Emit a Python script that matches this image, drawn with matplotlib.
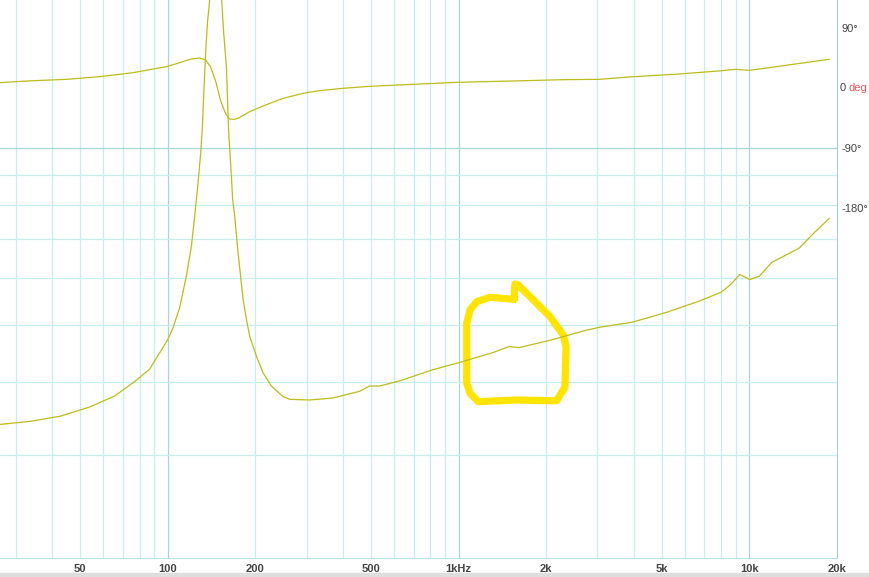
"""
阻抗 / 相位曲线 — 复刻 REW 风格截图
"""

import matplotlib
matplotlib.use("Agg")
import matplotlib.pyplot as plt

# ── 数据（从截图读取）──────────────────────────────────────────

# 阻抗幅值 (Hz, ohm)
freq_mag = [26.5, 33.6, 42.6, 54.0, 65.7, 77.0, 86.7, 91.5, 96.3, 100,
            104.3, 109.9, 115.9, 120.6, 123.8, 127.1, 129.8, 131.6, 133.2, 135.1,
            137.0, 139.4, 142, 146, 150, 153.3, 155.7, 159.1, 162.0, 164.2,
            167.2, 169.9, 174.5, 181.5, 186.4, 191.3, 201.7, 212.6, 227.0, 249.1,
            262.8, 307.5, 370, 457, 494, 535, 627, 816, 1006, 1310,
            1494, 1616, 2048, 2735, 3050, 3958, 5193, 6681, 7990, 8636,
            9263, 10015, 10811, 11950, 14800, 16860, 18800]
ohm_mag = [3.38, 3.42, 3.49, 3.62, 3.78, 4.00, 4.20, 4.39, 4.57, 4.72,
           4.94, 5.35, 6.05, 6.81, 7.66, 8.73, 9.8, 10.9, 12.6, 14.7,
           16.4, 17.9, 20.6, 22.7, 21.0, 17.9, 15.73, 13.78, 10.63, 9.57,
           8.18, 7.66, 6.63, 5.53, 5.11, 4.78, 4.42, 4.14, 3.93, 3.77,
           3.73, 3.72, 3.75, 3.85, 3.93, 3.93, 4.01, 4.19, 4.31, 4.48,
           4.59, 4.57, 4.70, 4.89, 4.95, 5.05, 5.25, 5.48, 5.68, 5.86,
           6.09, 5.97, 6.05, 6.39, 6.75, 7.21, 7.59]

# 相位 (Hz, deg)
freq_ph = [26.5, 32.7, 44.9, 58.4, 76.0, 99.0, 109.9, 120.6, 128.8, 135.1,
           140.2, 146.3, 151.7, 157.9, 163.3, 168.5, 174.5, 191.3, 212.6, 249.1,
           276.9, 299.6, 333, 400, 494, 697, 982, 1535, 2281, 3051,
           3862, 5724, 7838, 8932, 10000, 13330, 18800]
deg_ph = [8, 10.5, 13, 17, 23, 32, 38, 43.5, 45, 42,
          32, 9.5, -18, -38, -46.5, -47, -45.5, -35.5, -27, -15.5,
          -10.5, -7, -4, -0.5, 2.5, 5.5, 8.5, 10.5, 12.5, 13,
          16.5, 21, 25.5, 28, 26.5, 34, 43]

# 坐标刻度
x_ticks = [50, 100, 200, 500, 1000, 2000, 5000, 10000, 20000]
x_labels = ["50", "100", "200", "500", "1kHz", "2k", "5k", "10k", "20k"]
ph_ticks = [90, -90, -180]
ph_labels = ["90°", "-90°", "-180°"]

# 手绘标记（轴坐标比例）
mark_x = [0.614, 0.5854, 0.5695, 0.5615, 0.5576, 0.5576, 0.5576, 0.5615, 0.5714,
          0.6173, 0.6571, 0.6651, 0.675, 0.6762, 0.673, 0.6571, 0.6372, 0.6192,
          0.6153, 0.6145, 0.6145]
mark_y = [0.4636, 0.4672, 0.4593, 0.4444, 0.4206, 0.3668, 0.3131, 0.2952, 0.2801,
          0.2832, 0.2819, 0.2819, 0.307, 0.3787, 0.3996, 0.4325, 0.4624, 0.4892,
          0.491, 0.4772, 0.4636]

# ── 样式 ─────────────────────────────────────────────────────────

LINE = "#bcbc1c"
GRID = "#c6eeee"
GRID_DARK = "#a8d6d6"
TEXT = "#444444"

plt.rcParams["font.family"] = ["Liberation Sans", "DejaVu Sans"]

fig = plt.figure(figsize=(8.69, 5.77), dpi=100)
fig.patch.set_facecolor("white")
ax = fig.add_axes([0, 1 - 558 / 577, 837 / 869, 558 / 577])

ax.set_xscale("log")
ax.set_yscale("log")
ax.set_xlim(26.5, 20000)
ax.set_ylim(2.0, 17.9)

# 网格
for dec in [10, 100, 1000, 10000]:
    for m in range(1, 10):
        f = dec * m
        if 26.5 < f < 20000:
            ax.axvline(f, color=GRID_DARK if m == 1 else GRID, lw=0.9, zorder=0)
for z in [3, 4, 5, 6, 7, 8, 9, 10]:
    ax.axhline(z, color=GRID_DARK if z == 10 else GRID, lw=0.9, zorder=0)

ax.minorticks_off()
ax.set_xticks(x_ticks)
ax.set_xticklabels(x_labels)
ax.set_yticks([])
ax.tick_params(axis="x", length=0, pad=4, labelsize=8, labelcolor=TEXT)
for lab in ax.get_xticklabels():
    lab.set_fontweight("bold")

for side in ["left", "top"]:
    ax.spines[side].set_visible(False)
ax.spines["bottom"].set_color("#b6e4e4")
ax.spines["right"].set_color("#a4cfcf")

# 手绘标记
ax.plot(mark_x, mark_y, transform=ax.transAxes, color="#ffe400", lw=5.2,
        solid_capstyle="round", solid_joinstyle="round", zorder=1)

# 阻抗曲线
ax.plot(freq_mag, ohm_mag, color=LINE, lw=0.9, zorder=3)

# 相位曲线（右轴）
ax2 = ax.twinx()
ax2.set_ylim(-705, 132)
ax2.plot(freq_ph, deg_ph, color=LINE, lw=0.9, zorder=3)
ax2.set_yticks(ph_ticks)
ax2.set_yticklabels(ph_labels)
ax2.tick_params(axis="y", length=0, pad=3, labelsize=8, labelcolor=TEXT)
for side in ["left", "top", "bottom", "right"]:
    ax2.spines[side].set_visible(False)

ax2.annotate("0", xy=(1, 0), xycoords=("axes fraction", "data"),
             xytext=(2, 0), textcoords="offset points", va="center",
             ha="left", fontsize=8, color=TEXT)
ax2.annotate("deg", xy=(1, 0), xycoords=("axes fraction", "data"),
             xytext=(8.5, 0), textcoords="offset points", va="center",
             ha="left", fontsize=8, color="#e05a5a")

# 底部灰条
fig.patches.append(plt.Rectangle((0, 0), 1, 4 / 577, transform=fig.transFigure,
                                 color="#dedede", zorder=0))

plt.savefig("out.png", dpi=100)
plt.close()
